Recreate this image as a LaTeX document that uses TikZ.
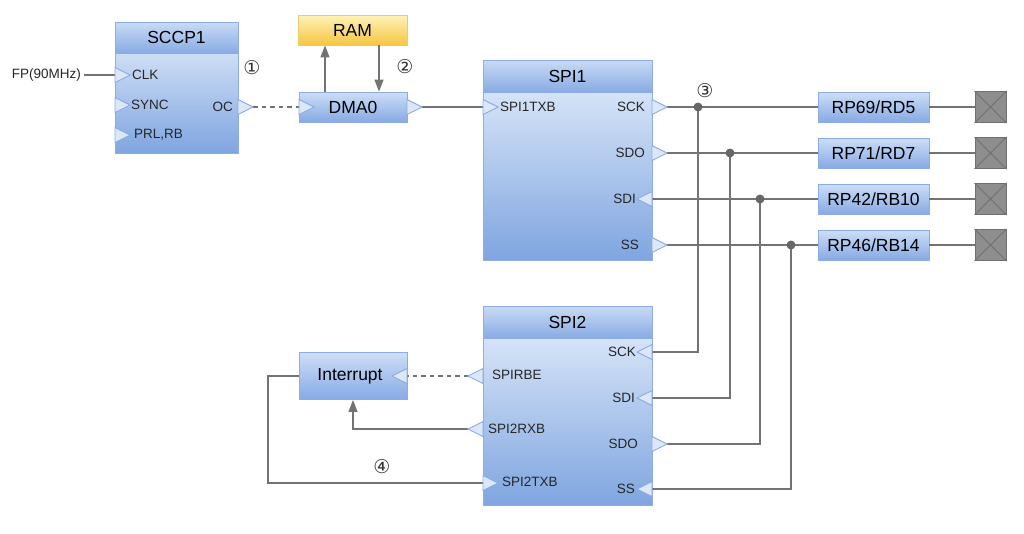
\documentclass[tikz,border=0pt]{standalone}
\usepackage{fontspec}
\setmainfont{Liberation Sans}
\newfontfamily\symfont{DejaVu Sans}
\usetikzlibrary{arrows.meta}
\definecolor{bordc}{HTML}{8DACDF}
\definecolor{hdrtop}{HTML}{C9DBF5}
\definecolor{hdrbot}{HTML}{88ABE4}
\definecolor{bodytop}{HTML}{E6EFFB}
\definecolor{bodybot}{HTML}{7FA5E0}
\definecolor{smtop}{HTML}{CDDEF7}
\definecolor{smbot}{HTML}{86AAE4}
\definecolor{ramtop}{HTML}{FFF2B8}
\definecolor{rambot}{HTML}{F4C643}
\definecolor{rambord}{HTML}{EDCB6A}
\definecolor{wirec}{HTML}{737373}
\definecolor{pinfill}{HTML}{DCE8F9}
\definecolor{sqfill}{HTML}{8E8E8E}
\definecolor{sqbord}{HTML}{707070}
\newcommand\pinR[2]{\filldraw[pinsty] (#1,#2-7.5) -- ++(15,7.5) -- ++(-15,7.5) -- cycle;}
\newcommand\pinL[2]{\filldraw[pinsty] (#1,#2-7.5) -- ++(-15,7.5) -- ++(15,7.5) -- cycle;}
\begin{document}
\begin{tikzpicture}[x=1pt,y=-1pt,
  body/.style={draw=bordc, line width=0.9pt, top color=bodytop, bottom color=bodybot, inner sep=0pt},
  hdr/.style={draw=bordc, line width=0.9pt, top color=hdrtop, bottom color=hdrbot, inner sep=0pt, font=\fontsize{17.5}{20}\selectfont},
  small/.style={draw=bordc, line width=0.9pt, top color=smtop, bottom color=smbot, inner sep=0pt, font=\fontsize{17.5}{20}\selectfont, minimum height=30},
  ramsty/.style={draw=rambord, line width=0.9pt, top color=ramtop, bottom color=rambot, inner sep=0pt, font=\fontsize{17.5}{20}\selectfont, minimum height=30},
  lbl/.style={inner sep=0pt, font=\fontsize{13.5}{16}\selectfont, text=black!85},
  num/.style={inner sep=0pt, font=\symfont\fontsize{19}{21}\selectfont, text=black!80},
  pinsty/.style={draw=bordc, fill=pinfill, line width=0.9pt},
  wire/.style={draw=wirec, line width=1.3pt},
  dwire/.style={draw=wirec, line width=1.3pt, dash pattern=on 4.5pt off 4pt},
  arr/.style={draw=wirec, line width=1.3pt, -{Triangle[length=12pt,width=9pt]}, color=wirec},
  dot/.style={circle, fill=wirec!90!black, inner sep=0pt, minimum size=9pt},
  sq/.style={draw=sqbord, fill=sqfill, line width=1pt, minimum size=31, inner sep=0pt}
]
\useasboundingbox (0,0) rectangle (1024,533);

% ---------------- SCCP1
\node[body, minimum width=123, minimum height=131] (sccp) at (176.5,87.5) {};
\node[hdr, minimum width=123, minimum height=31] (sccph) at (176.5,37.5) {SCCP1};
\coordinate (clk) at (115,75);
\coordinate (octip) at (253,107);
\node[lbl, anchor=east] (fp) at (81,75) {FP(90MHz)};
\draw[wire] (fp.east) ++(3,0) -- (clk);
\pinR{115}{75}
\pinR{115}{105}
\pinR{115}{135}
\pinR{238}{107}
\node[lbl, anchor=west] (lclk) at (132,75) {CLK};
\node[lbl, anchor=west] (lsync) at (131,105) {SYNC};
\node[lbl, anchor=west] (lprl) at (134,135) {PRL,RB};
\node[lbl, anchor=east] (loc) at (233,107) {OC};
\node[num] (n1) at (252,68) {①};

% ---------------- RAM / DMA0
\node[ramsty, minimum width=109] (ram) at (352.5,30) {RAM};
\node[small, minimum width=108] (dma) at (353,107) {DMA0};
\coordinate (upfoot) at (325,92);
\coordinate (dnfoot) at (379,45);
\draw[dwire] (octip) -- (dma.west);
\draw[arr] (upfoot) -- (upfoot |- ram.south);
\draw[arr] (dnfoot) -- (dnfoot |- dma.north);
\pinR{299}{107}
\node[num] (n2) at (405,67) {②};

% ---------------- SPI1
\node[body, minimum width=169, minimum height=200] (spi1) at (567.5,160) {};
\node[hdr, minimum width=169, minimum height=32] (spi1h) at (567.5,76) {SPI1};
\coordinate (dmaout) at (422,107);
\coordinate (s1txb) at (483,107);
\draw[wire] (dmaout) -- (s1txb);
\pinR{407}{107}

% ---------------- SPI2
\node[body, minimum width=169, minimum height=199] (spi2) at (567.5,405.5) {};
\node[hdr, minimum width=169, minimum height=32] (spi2h) at (567.5,322) {SPI2};

% ---------------- RP boxes and pins
\node[small, minimum width=111] (rp1) at (873.5,107) {RP69/RD5};
\node[small, minimum width=111] (rp2) at (873.5,153) {RP71/RD7};
\node[small, minimum width=111] (rp3) at (873.5,199) {RP42/RB10};
\node[small, minimum width=111] (rp4) at (873.5,245) {RP46/RB14};
\foreach \i/\y in {1/107,2/153,3/199,4/245}{
  \node[sq] (sq\i) at (990.5,\y) {};
  \draw[sqbord, line width=0.9pt] (sq\i.north west) -- (sq\i.south east) (sq\i.north east) -- (sq\i.south west);
  \draw[wire] (rp\i.east) -- (sq\i.west);
}

% SPI1 pin ends
\coordinate (s1sck) at (667,107);
\coordinate (s1sdo) at (667,153);
\coordinate (s1sdi) at (652,199);
\coordinate (s1ss) at (667,245);
% SPI2 pin ends
\coordinate (s2sck) at (652,352);
\coordinate (s2sdi) at (652,398);
\coordinate (s2sdo) at (667,444);
\coordinate (s2ss) at (652,489);
% junctions
\coordinate (j1) at (698,107);
\coordinate (j2) at (730,153);
\coordinate (j3) at (760,199);
\coordinate (j4) at (791,245);

\draw[wire] (s1sck) -- (rp1.west);
\draw[wire] (s1sdo) -- (rp2.west);
\draw[wire] (s1sdi) -- (rp3.west);
\draw[wire] (s1ss) -- (rp4.west);
\draw[wire] (j1) |- (s2sck);
\draw[wire] (j2) |- (s2sdi);
\draw[wire] (j3) |- (s2sdo);
\draw[wire] (j4) |- (s2ss);
\foreach \j in {j1,j2,j3,j4} \node[dot] at (\j) {};
\node[num] (n3) at (705,91) {③};

% ---------------- Interrupt
\node[small, minimum width=108, minimum height=47] (int) at (353,376) {\hspace*{-6pt}Interrupt};
\coordinate (rbe) at (468,376);
\coordinate (rxb) at (468,429);
\coordinate (txb) at (483,483);
\coordinate (fb) at (268,376);
\draw[dwire] (rbe) -- (int.east);
\draw[arr] (rxb) -| (int.south);
\draw[wire] (int.west) -- (fb) |- (txb);
\node[num] (n4) at (382,467) {④};

% pins on SPI1/SPI2
\pinR{483}{107}
\pinR{652}{107}
\pinR{652}{153}
\pinL{652}{199}
\pinR{652}{245}
\pinL{652}{352}
\pinL{652}{398}
\pinR{652}{444}
\pinL{652}{489}
\pinL{483}{376}
\pinL{483}{429}
\pinR{483}{483}
\pinL{407}{376}

% pin labels
\node[lbl, anchor=west] (l1txb) at (500,107) {SPI1TXB};
\node[lbl, anchor=east] (l1sck) at (645,107) {SCK};
\node[lbl, anchor=east] (l1sdo) at (645,153) {SDO};
\node[lbl, anchor=east] (l1sdi) at (636,199) {SDI};
\node[lbl, anchor=east] (l1ss) at (639,245) {SS};
\node[lbl, anchor=east] (l2sck) at (636,352) {SCK};
\node[lbl, anchor=east] (l2sdi) at (635,398) {SDI};
\node[lbl, anchor=east] (l2sdo) at (638,444) {SDO};
\node[lbl, anchor=east] (l2ss) at (635,489) {SS};
\node[lbl, anchor=west] (lrbe) at (492,375) {SPIRBE};
\node[lbl, anchor=west] (lrxb) at (488,429) {SPI2RXB};
\node[lbl, anchor=west] (ltxb) at (502,482) {SPI2TXB};
\end{tikzpicture}
\end{document}
